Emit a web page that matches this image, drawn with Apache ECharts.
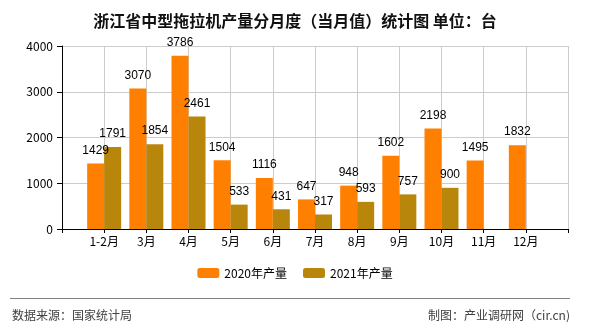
<!DOCTYPE html>
<html>
<head>
<meta charset="utf-8">
<script src="https://cdn.jsdelivr.net/npm/echarts@6/dist/echarts.min.js"></script>
<style>html,body{margin:0;padding:0;background:#fff;}#c{width:590px;height:330px;}</style>
</head>
<body>
<div id="c"></div>
<script>
var categories = ['1-2月','3月','4月','5月','6月','7月','8月','9月','10月','11月','12月'];
var series2020 = [1429,3070,3786,1504,1116,647,948,1602,2198,1495,1832];
var series2021 = [1791,1854,2461,533,431,317,593,757,900,null,null];
var yTicks = [0,1000,2000,3000,4000];

var axisCats = [''].concat(categories).concat(['']);
function pad(a){ return [null].concat(a).concat([null]); }

var chart = echarts.init(document.getElementById('c'));
var fontCJK = '"Noto Sans CJK SC", "DejaVu Sans", sans-serif';
chart.setOption({
  backgroundColor: '#fff',
  animation: false,
  title: {
    text: '浙江省中型拖拉机产量分月度（当月值）统计图 单位：台',
    left: 'center', top: 8,
    textStyle: {fontSize: 16, fontWeight: 'bold', color: '#111', fontFamily: fontCJK}
  },
  legend: {
    bottom: 46, left: 'center',
    itemWidth: 22, itemHeight: 10, itemGap: 16,
    textStyle: {fontSize: 12, color: '#000', fontFamily: fontCJK},
    data: ['2020年产量','2021年产量']
  },
  grid: {left: 62, right: 22, top: 46, bottom: 101, containLabel: false},
  xAxis: {
    type: 'category', data: axisCats, boundaryGap: false,
    axisLine: {lineStyle: {color: '#000'}},
    axisTick: {show: true, length: 4, lineStyle: {color: '#000'}},
    axisLabel: {color: '#000', fontSize: 12, margin: 6, interval: 0, fontFamily: fontCJK},
    splitLine: {show: true, lineStyle: {color: '#ccc'}}
  },
  yAxis: {
    type: 'value', min: yTicks[0], max: yTicks[yTicks.length-1], interval: 1000,
    axisLine: {show: true, lineStyle: {color: '#000'}},
    axisTick: {show: true, length: 5, lineStyle: {color: '#000'}},
    axisLabel: {color: '#000', fontSize: 12, margin: 9, fontFamily: fontCJK,
      formatter: function(v){ return String(v); }},
    splitLine: {show: true, lineStyle: {color: '#ccc'}}
  },
  series: [
    {name: '2020年产量', type: 'bar', data: pad(series2020), barWidth: 17, barGap: '0%',
     itemStyle: {color: '#FF8000'},
     label: {show: true, position: 'top', distance: 7, color: '#000', fontSize: 12}},
    {name: '2021年产量', type: 'bar', data: pad(series2021), barWidth: 17, barGap: '0%',
     itemStyle: {color: '#B8860B'},
     label: {show: true, position: 'top', distance: 7, color: '#000', fontSize: 12}}
  ],
  graphic: [
    {type: 'line', shape: {x1: 10, y1: 298.5, x2: 570, y2: 298.5}, style: {stroke: '#808080', lineWidth: 1}},
    {type: 'text', left: 12, top: 309, style: {text: '数据来源：国家统计局', fontSize: 12, fill: '#404040', fontFamily: fontCJK}},
    {type: 'text', right: 20, top: 309, style: {text: '制图：产业调研网（cir.cn)', fontSize: 12, fill: '#404040', fontFamily: fontCJK}}
  ]
});
</script>
</body>
</html>
